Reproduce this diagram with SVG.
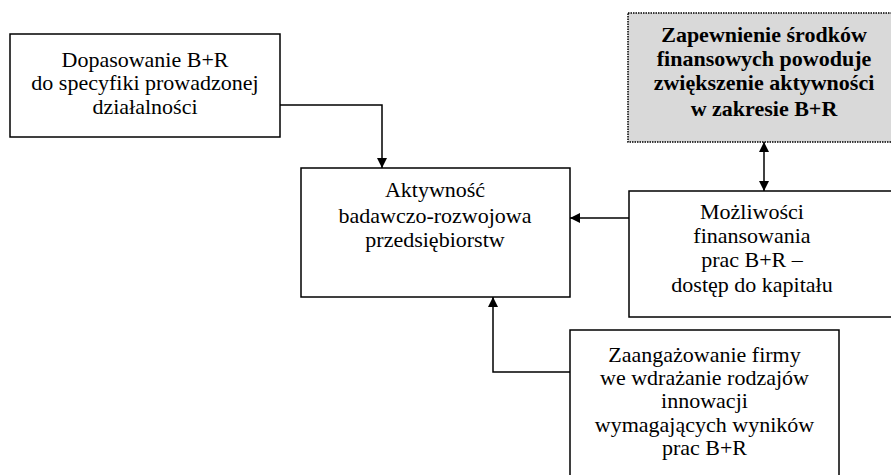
<svg xmlns="http://www.w3.org/2000/svg" width="891" height="475" viewBox="0 0 891 475">
  <style>
    .box { fill: #ffffff; stroke: #000000; stroke-width: 1.5; }
    .note { fill: #d9d9d9; stroke: #000000; stroke-width: 1.5; stroke-dasharray: 1.5 1; }
    .lbl { font-family: "Liberation Serif", "Times New Roman", serif; font-size: 22px; fill: #000000; text-anchor: middle; }
    .bold { font-weight: bold; }
    .wire { fill: none; stroke: #000000; stroke-width: 1.5; }
  </style>
  <defs>
    <marker id="head" viewBox="0 0 10 10" refX="10" refY="5" markerWidth="10" markerHeight="10" markerUnits="userSpaceOnUse" orient="auto-start-reverse">
      <path d="M0,0 L10,5 L0,10 Z" fill="#000000"/>
    </marker>
  </defs>

  <g id="node-dopasowanie">
    <rect class="box" x="10" y="34" width="270" height="103"/>
    <text class="lbl" x="145" y="67">Dopasowanie B+R</text>
    <text class="lbl" x="145" y="90">do specyfiki prowadzonej</text>
    <text class="lbl" x="145" y="114">działalności</text>
  </g>

  <g id="node-aktywnosc">
    <rect class="box" x="301" y="168" width="269" height="129"/>
    <text class="lbl" x="435" y="197">Aktywność</text>
    <text class="lbl" x="435" y="223">badawczo-rozwojowa</text>
    <text class="lbl" x="435" y="247">przedsiębiorstw</text>
  </g>

  <g id="node-zapewnienie">
    <rect class="note" x="628" y="13" width="272" height="129"/>
    <text class="lbl bold" x="764" y="42">Zapewnienie środków</text>
    <text class="lbl bold" x="764" y="66">finansowych powoduje</text>
    <text class="lbl bold" x="764" y="90">zwiększenie aktywności</text>
    <text class="lbl bold" x="764" y="116">w zakresie B+R</text>
  </g>

  <g id="node-mozliwosci">
    <rect class="box" x="629" y="191" width="272" height="126"/>
    <text class="lbl" x="752" y="219">Możliwości</text>
    <text class="lbl" x="752" y="243">finansowania</text>
    <text class="lbl" x="752" y="267">prac B+R –</text>
    <text class="lbl" x="752" y="292">dostęp do kapitału</text>
  </g>

  <g id="node-zaangazowanie">
    <rect class="box" x="570" y="330" width="269" height="160"/>
    <text class="lbl" x="704.5" y="362">Zaangażowanie firmy</text>
    <text class="lbl" x="704.5" y="385">we wdrażanie rodzajów</text>
    <text class="lbl" x="704.5" y="408">innowacji</text>
    <text class="lbl" x="704.5" y="432">wymagających wyników</text>
    <text class="lbl" x="704.5" y="455">prac B+R</text>
  </g>

  <g id="connectors">
    <path class="wire" d="M280,105 H382 V168" marker-end="url(#head)"/>
    <path class="wire" d="M764,142 V191" marker-start="url(#head)" marker-end="url(#head)"/>
    <path class="wire" d="M629,218 H570" marker-end="url(#head)"/>
    <path class="wire" d="M570,372 H493 V297" marker-end="url(#head)"/>
  </g>
</svg>
